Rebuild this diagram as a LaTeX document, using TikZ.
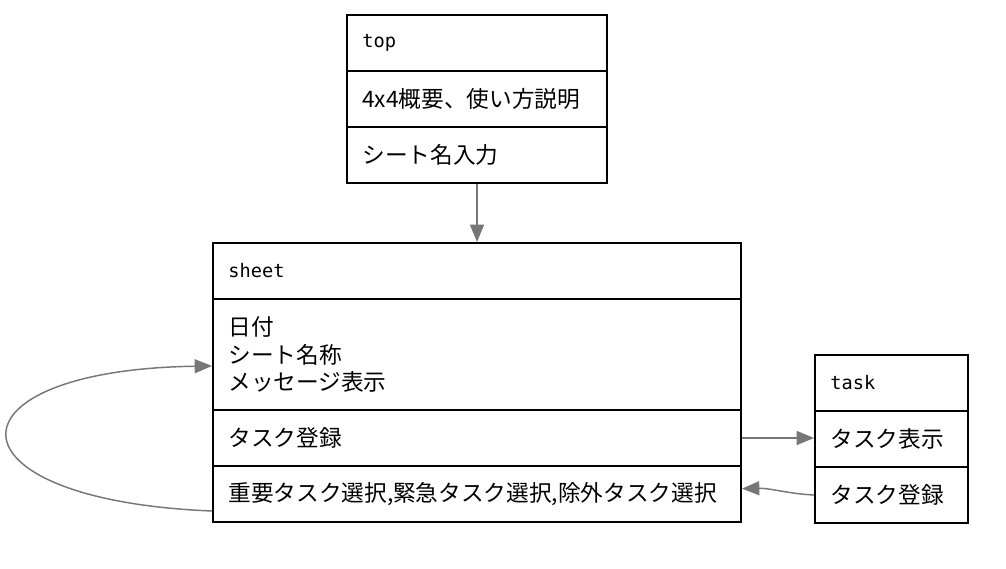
\documentclass[tikz,border=0pt]{standalone}
\usepackage{fontspec}
\setmainfont{Noto Sans CJK JP}
\newfontfamily\monof{DejaVu Sans Mono}
\usetikzlibrary{arrows.meta}
\definecolor{linkgray}{HTML}{777777}
\begin{document}
\begin{tikzpicture}[x=0.75pt,y=-0.75pt,
  cell/.style={draw=black,line width=1.5pt,rectangle,inner xsep=11.5pt,inner ysep=0pt,
    align=left,font=\fontsize{17}{20.5}\selectfont,anchor=center},
  titlecell/.style={cell,font=\monof\fontsize{14}{16}\selectfont},
  topw/.style={text width=172pt},
  sheetw/.style={text width=373pt},
  taskw/.style={text width=91.75pt},
  rowh/.style={minimum height=42pt},
  link/.style={draw=linkgray,line width=1.1pt,-{Triangle[length=13pt,width=10.5pt]}}]
\useasboundingbox (0,0) rectangle (1006,568);
% top
\node[titlecell,topw,rowh] (top1) at (477,43) {top};
\node[cell,topw,rowh] (top2) at (477,99) {4x4概要、使い方説明};
\node[cell,topw,rowh] (top3) at (477,155) {シート名入力};
% sheet
\node[titlecell,sheetw,rowh] (sheet1) at (477,271) {sheet};
\node[cell,sheetw,minimum height=83.25pt] (sheet2) at (477,354.5) {日付\\シート名称\\メッセージ表示};
\node[cell,sheetw,rowh] (sheet3) at (477,438) {タスク登録};
\node[cell,sheetw,rowh] (sheet4) at (477,494) {重要タスク選択,緊急タスク選択,除外タスク選択};
% task
\node[titlecell,taskw,rowh] (task1) at (891.5,383) {task};
\node[cell,taskw,rowh] (task2) at (891.5,439) {タスク表示};
\node[cell,taskw,rowh] (task3) at (891.5,495) {タスク登録};
% connectors
\draw[link] (top3.south) -- (sheet1.north);
\draw[link] (sheet3.east) -- (task2.west |- sheet3.east);
\draw[link] (task3.west) .. controls (790,494) and (770,488) .. ([yshift=4pt]sheet4.east);
\draw[link] ([yshift=-12.75pt]sheet4.west) .. controls (-60,500) and (-60,370) .. ([yshift=-8.6pt]sheet2.west);
\end{tikzpicture}
\end{document}
